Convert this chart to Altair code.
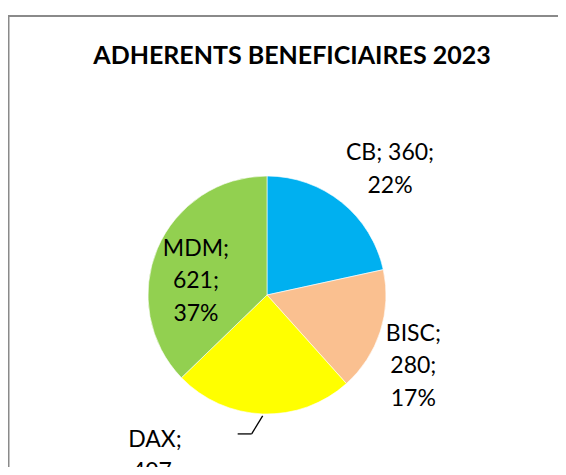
import altair as alt
import pandas as pd

title_text = "ADHERENTS BENEFICIAIRES 2023"
categories = ["CB", "BISC", "DAX", "MDM"]
values = [360, 280, 407, 621]
colors = ["#00B0F0", "#FAC090", "#FFFF00", "#92D050"]

total = sum(values)
pcts = [round(v * 100 / total) for v in values]
labels = []
for c, v, p in zip(categories, values, pcts):
    if c == "CB":
        labels.append(f"{c}; {v};\n{p}%")
    else:
        labels.append(f"{c};\n{v};\n{p}%")

df = pd.DataFrame({"cat": categories, "value": values,
                   "order": list(range(len(categories))), "label": labels})

# layout (pixels)
W, H = 550, 459
CX, CY, R = 259, 287, 119
FONT = "Lato"
# (radius at slice mid-angle, x offset, y offset of first line)
lab_layout = {"CB": (177, 12, -4), "BISC": (158, -4, -10),
              "DAX": (170, -106, -25), "MDM": (75, -2, -17)}


def pick(idx):
    expr = "0"
    for k, t in lab_layout.items():
        expr = f"datum.cat == '{k}' ? {t[idx]} : ({expr})"
    return expr


base = alt.Chart(df).transform_window(
    cum="sum(value)", sort=[alt.SortField("order")], frame=[None, 0]
).transform_joinaggregate(tot="sum(value)").transform_calculate(
    mid="(datum.cum - datum.value / 2) / datum.tot * 2 * PI"
)

arcs = alt.Chart(df).mark_arc(outerRadius=R, stroke="white", strokeWidth=0.6).encode(
    theta=alt.Theta("value:Q", stack=True),
    order=alt.Order("order:Q"),
    color=alt.Color("cat:N", scale=alt.Scale(domain=categories, range=colors), legend=None),
    x=alt.value(CX), y=alt.value(CY),
)

texts = base.transform_calculate(
    lr=pick(0), ox=pick(1), oy=pick(2)
).transform_calculate(
    px=f"{CX} + datum.lr * sin(datum.mid) + datum.ox",
    py=f"{CY} - datum.lr * cos(datum.mid) + datum.oy",
).mark_text(font=FONT, fontSize=23, lineBreak="\n", lineHeight=32.5,
            align="center", baseline="middle", color="#000000").encode(
    x=alt.X("px:Q", scale=None), y=alt.Y("py:Q", scale=None), text="label:N"
)

leader = base.transform_filter("datum.cat == 'DAX'").transform_calculate(
    x0=f"{CX} + {R + 2} * sin(datum.mid)",
    y0=f"{CY} - {R + 2} * cos(datum.mid)",
).transform_calculate(x1="datum.x0 - 11", y1="datum.y0 + 18")

lead1 = leader.mark_rule(color="#000000", strokeWidth=1.3).encode(
    x=alt.X("x0:Q", scale=None), y=alt.Y("y0:Q", scale=None),
    x2="x1:Q", y2="y1:Q")
lead2 = leader.transform_calculate(x2b="datum.x1 - 14").mark_rule(
    color="#000000", strokeWidth=1.3).encode(
    x=alt.X("x1:Q", scale=None), y=alt.Y("y1:Q", scale=None),
    x2="x2b:Q", y2="y1:Q")

frame_df = pd.DataFrame({"k": [0]})
frame_top = alt.Chart(frame_df).mark_rule(color="#8a8a8a", strokeWidth=2).encode(
    x=alt.value(0), x2=alt.value(W + 20), y=alt.value(8), y2=alt.value(8))
frame_left = alt.Chart(frame_df).mark_rule(color="#8a8a8a", strokeWidth=2).encode(
    x=alt.value(0.5), x2=alt.value(0.5), y=alt.value(7), y2=alt.value(H + 20))

title = alt.Chart(pd.DataFrame({"t": [title_text]})).mark_text(
    font=FONT, fontSize=25, fontWeight="bold", align="center", baseline="middle",
    color="#000000").encode(x=alt.value(284), y=alt.value(48), text="t:N")

chart = alt.layer(frame_top, frame_left, arcs, lead1, lead2, texts, title).properties(
    width=W, height=H, autosize=alt.AutoSizeParams(type="none"), padding=0,
    background="white"
).configure_view(strokeWidth=0, stroke="transparent")

chart.save("out.html", embed_options={"renderer": "svg", "actions": False})
